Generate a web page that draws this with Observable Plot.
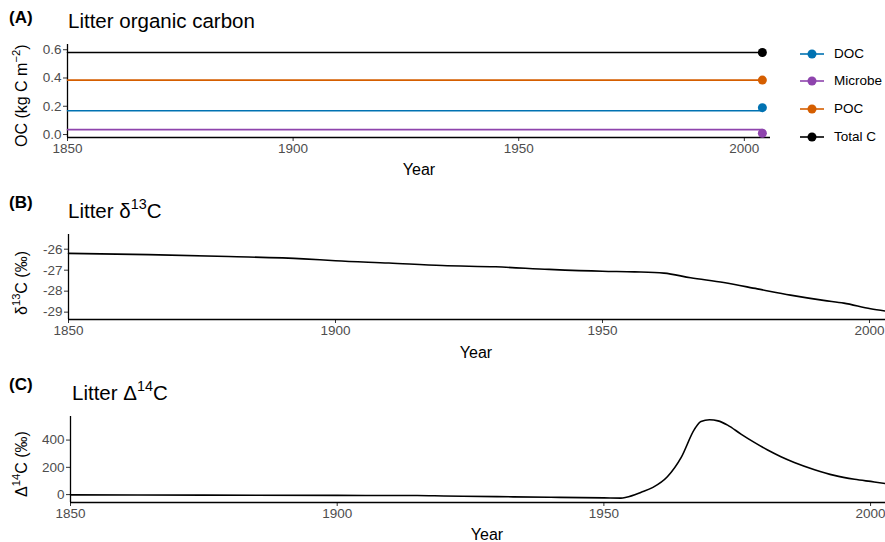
<!DOCTYPE html>
<html>
<head>
<meta charset="utf-8">
<script src="https://cdn.jsdelivr.net/npm/d3@7"></script>
<script src="https://cdn.jsdelivr.net/npm/@observablehq/plot@0.6"></script>
<style>
  html, body { margin: 0; padding: 0; background: #fff; }
  #wrap { position: relative; width: 885px; height: 542px; font-family: "Liberation Sans", Arial, Helvetica, sans-serif; overflow: hidden; }
  #wrap svg text { font-size: 13.5px !important; font-family: "Liberation Sans", Arial, Helvetica, sans-serif; }
  .abs { position: absolute; white-space: nowrap; }
  .tag { font-weight: bold; font-size: 17px; color: #000; }
  .title { font-size: 20.5px; color: #000; }
  .ylab { font-size: 16px; color: #000; transform-origin: 0 0; }
  .xlab { font-size: 16px; color: #000; transform: translateX(-50%); }
  sup { font-size: 70%; line-height: 0; vertical-align: 0.6em; }
  .leg { font-size: 13.5px; color: #000; }
  svg { position: absolute; }
</style>
</head>
<body>
<div id="wrap"></div>
<script>
// ---------- Data ----------
// Panel A: litter organic carbon (kg C m^-2)
const seriesA = ["DOC", "Microbe", "POC", "Total C"];
const colorsA = ["#0072B2", "#8E44AD", "#D55E00", "#000000"];
const lineYearsA = [1850, 2004];
const levelA = [0.168, 0.035, 0.385, 0.58];
const endYearA = 2004;
const endValueA = [0.19, 0.009, 0.385, 0.58];

// Panel B: litter delta13C (permil)
const yearsB = [1850, 1865, 1880, 1894, 1900, 1910, 1920, 1930, 1940, 1950, 1956, 1961.5, 1966.5, 1972.7, 1979, 1985.2, 1991.4, 1995.2, 2000.2, 2003];
const d13B   = [-26.2, -26.26, -26.35, -26.46, -26.55, -26.66, -26.78, -26.84, -26.96, -27.05, -27.08, -27.14, -27.36, -27.59, -27.89, -28.19, -28.44, -28.57, -28.84, -28.95];

// Panel C: litter Delta14C (permil)
const yearsC = [1850, 1875, 1900, 1915, 1920, 1930, 1940, 1950, 1953.2, 1954.2, 1957, 1959.2, 1961.9, 1964.5, 1967, 1968.2, 1969.8, 1971.4, 1973.2, 1975.7, 1978.2, 1980.7, 1983.2, 1985.7, 1989.5, 1993.2, 1997, 2000.7, 2002.9];
const D14C   = [-2, -4, -6, -7, -10, -15, -20, -24, -26, -20, 17, 53, 131, 273, 480, 537, 549, 541, 510, 444, 383, 327, 278, 236, 183, 141, 112, 93, 80];

const xTicks = [1850, 1900, 1950, 2000];

// ---------- Build ----------
const wrap = document.getElementById("wrap");
const font = '"Liberation Sans", Arial, Helvetica, sans-serif';
const baseStyle = { fontFamily: font, fontSize: "13.5px", color: "#4D4D4D", background: "transparent", overflow: "visible" };

function place(svg, top) { svg.style.left = "0px"; svg.style.top = top + "px"; wrap.appendChild(svg); }
function html(cls, left, top, inner) {
  const d = document.createElement("div");
  d.className = "abs " + cls; d.style.left = left + "px"; d.style.top = top + "px"; d.innerHTML = inner;
  wrap.appendChild(d); return d;
}
function axisMarks(yTicks, yFmt, xmin, ymin) {
  return [
    Plot.axisX({ ticks: xTicks, tickFormat: d => String(d), tickSize: 4, tickPadding: 2, label: null, stroke: "#333", fill: "#4D4D4D", fontSize: 13.5 }),
    Plot.axisY({ ticks: yTicks, tickFormat: yFmt, tickSize: 4, tickPadding: 2, label: null, stroke: "#333", fill: "#4D4D4D", fontSize: 13.5 }),
    Plot.ruleY([ymin], { stroke: "#000", strokeWidth: 1.3 }),
    Plot.ruleX([xmin], { stroke: "#000", strokeWidth: 1.3 })
  ];
}

// Panel A
const lineDataA = seriesA.flatMap((s, i) => lineYearsA.map(y => ({ year: y, value: levelA[i], series: s })));
const dotDataA = seriesA.map((s, i) => ({ year: endYearA, value: endValueA[i], series: s }));
const yDomA = [-0.021, 0.637];
const pA = Plot.plot({
  width: 885, height: 185, marginLeft: 67, marginRight: 115, marginTop: 44, marginBottom: 48,
  x: { domain: [1850, 2005.8] }, y: { domain: yDomA },
  color: { domain: seriesA, range: colorsA },
  style: baseStyle,
  marks: [
    ...axisMarks([0, 0.2, 0.4, 0.6], d => d.toFixed(1), 1850, yDomA[0]),
    Plot.line(lineDataA, { x: "year", y: "value", stroke: "series", z: "series", strokeWidth: 1.6 }),
    Plot.dot(dotDataA, { x: "year", y: "value", fill: "series", r: 4.5 })
  ]
});
place(pA, 0);

// Panel B
const dataB = yearsB.map((y, i) => ({ year: y, value: d13B[i] }));
const yDomB = [-29.35, -25.3];
const pB = Plot.plot({
  width: 885, height: 185, marginLeft: 68, marginRight: 0, marginTop: 49, marginBottom: 51,
  x: { domain: [1850, 2003] }, y: { domain: yDomB },
  style: baseStyle,
  marks: [
    ...axisMarks([-29, -28, -27, -26], d => String(d), 1850, yDomB[0]),
    Plot.line(dataB, { x: "year", y: "value", stroke: "#000", strokeWidth: 1.6, curve: "monotone-x" })
  ]
});
place(pB, 185);

// Panel C
const dataC = yearsC.map((y, i) => ({ year: y, value: D14C[i] }));
const yDomC = [-58, 573];
const pC = Plot.plot({
  width: 885, height: 172, marginLeft: 70, marginRight: 0, marginTop: 46, marginBottom: 40,
  x: { domain: [1850, 2002.8] }, y: { domain: yDomC },
  style: baseStyle,
  marks: [
    ...axisMarks([0, 200, 400], d => String(d), 1850, yDomC[0]),
    Plot.line(dataC, { x: "year", y: "value", stroke: "#000", strokeWidth: 1.6, curve: "monotone-x" })
  ]
});
place(pC, 370);

// Titles
html("tag", 9, 8, "(A)");
html("title", 68, 9, "Litter organic carbon");
html("tag", 9, 193, "(B)");
html("title", 68, 199, "Litter δ<sup>13</sup>C");
html("tag", 9, 375, "(C)");
html("title", 72, 381, "Litter Δ<sup>14</sup>C");

// Axis titles
html("xlab", 419, 161, "Year");
html("xlab", 476, 344, "Year");
html("xlab", 487, 526, "Year");
const yl1 = html("ylab", 13, 147, "OC (kg C m<sup>−2</sup>)"); yl1.style.transform = "rotate(-90deg)";
const yl2 = html("ylab", 13, 315, "δ<sup>13</sup>C (‰)"); yl2.style.transform = "rotate(-90deg)";
const yl3 = html("ylab", 13, 497, "Δ<sup>14</sup>C (‰)"); yl3.style.transform = "rotate(-90deg)";

// Legend
const legY = [54, 81, 109, 137];
seriesA.forEach((s, i) => {
  const svg = document.createElementNS("http://www.w3.org/2000/svg", "svg");
  svg.setAttribute("width", 26); svg.setAttribute("height", 14);
  svg.style.left = "799px"; svg.style.top = (legY[i] - 7) + "px";
  svg.innerHTML = `<line x1="1" x2="25" y1="7" y2="7" stroke="${colorsA[i]}" stroke-width="1.6"/><circle cx="13" cy="7" r="4.5" fill="${colorsA[i]}"/>`;
  wrap.appendChild(svg);
  html("leg", 834, legY[i] - 8, s);
});
</script>
</body>
</html>
